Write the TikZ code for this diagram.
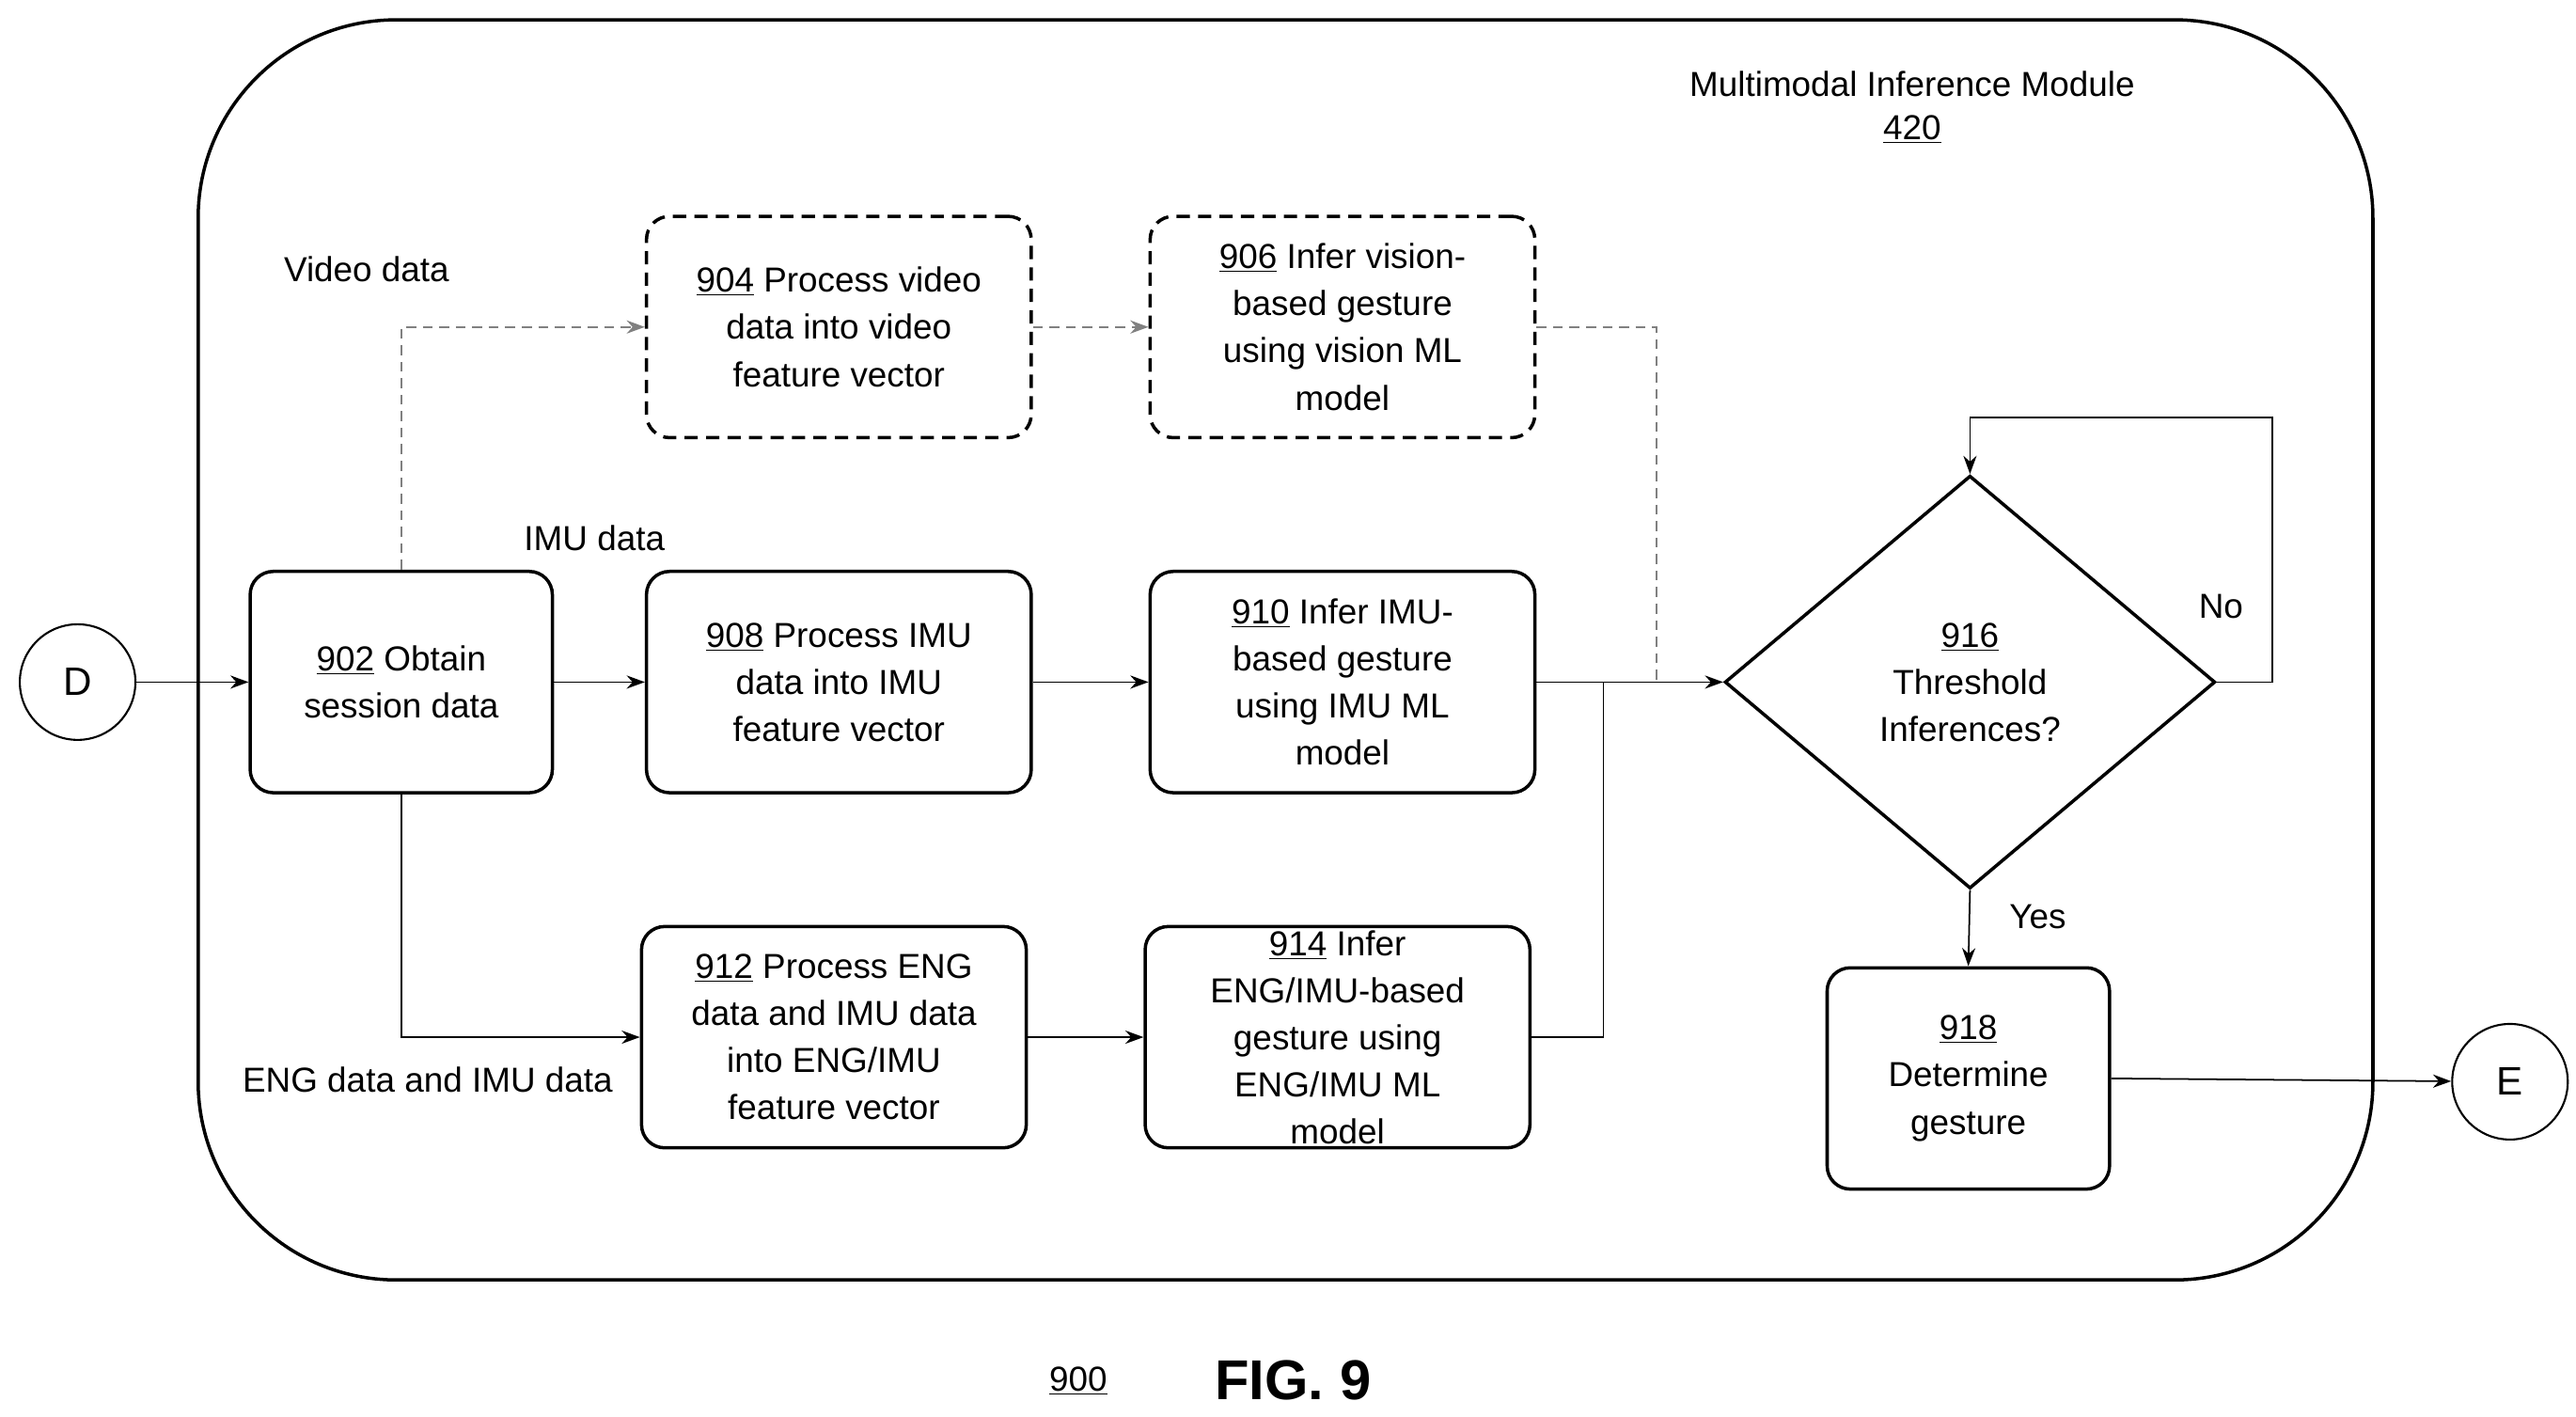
\documentclass[tikz,border=0pt]{standalone}
\usepackage{fontspec}
\setmainfont{Liberation Sans}
\usetikzlibrary{shapes.geometric,arrows.meta}
\begin{document}
\begin{tikzpicture}[x=1pt,y=-1pt,
  box/.style={draw,line width=2pt,rounded corners=14pt,minimum width=233pt,minimum height=134pt,align=center,font=\fontsize{21}{28.5}\selectfont,inner sep=2pt},
  dbox/.style={box,dash pattern=on 8pt off 5pt},
  lbl/.style={font=\fontsize{21}{26}\selectfont},
  ar/.style={-{Stealth[length=11pt,width=8pt]},line width=1pt},
  dar/.style={ar,dashed,gray,dash pattern=on 6pt off 4pt},
  circ/.style={draw,circle,line width=1.2pt,minimum size=70pt,font=\fontsize{24}{28}\selectfont}]
\useasboundingbox (0,0) rectangle (1560,858);
\draw[line width=2pt,rounded corners=120pt] (120,12) rectangle (1437,775);
\node[lbl,align=center] (title) at (1158,65) {Multimodal Inference Module\\\underline{420}};
\node[circ] (D) at (47,413) {D};
\node[circ] (E) at (1520,655) {E};
\node[box,minimum width=183pt] (n902) at (243,413) {\underline{902} Obtain\\session data};
\node[dbox] (n904) at (508,198) {\underline{904} Process video\\data into video\\feature vector};
\node[dbox] (n906) at (813,198) {\underline{906} Infer vision-\\based gesture\\using vision ML\\model};
\node[box] (n908) at (508,413) {\underline{908} Process IMU\\data into IMU\\feature vector};
\node[box] (n910) at (813,413) {\underline{910} Infer IMU-\\based gesture\\using IMU ML\\model};
\node[box] (n912) at (505,628) {\underline{912} Process ENG\\data and IMU data\\into ENG/IMU\\feature vector};
\node[box] (n914) at (810,628) {\underline{914} Infer\\ENG/IMU-based\\gesture using\\ENG/IMU ML\\model};
\node[draw,diamond,line width=2pt,minimum width=297pt,minimum height=250pt,inner sep=0pt,align=center,font=\fontsize{21}{28.5}\selectfont] (n916) at (1193,413) {\underline{916}\\Threshold\\Inferences?};
\node[box,minimum width=171pt] (n918) at (1192,653) {\underline{918}\\Determine\\gesture};
\node[lbl] (l1) at (222,163) {Video data};
\node[lbl] (l2) at (360,326) {IMU data};
\node[lbl] (l3) at (259,654) {ENG data and IMU data};
\node[lbl] (l4) at (1345,367) {No};
\node[lbl] (l5) at (1234,555) {Yes};
\node[font=\fontsize{21}{26}\selectfont] (f900) at (653,836) {\underline{900}};
\node[font=\bfseries\fontsize{34}{40}\selectfont] (fig) at (783,836) {FIG. 9};
\coordinate (j1) at (1003,413);
\coordinate (j2) at (971,413);
\draw[ar] (D) -- (n902);
\draw[dar] (n902.north) -- (243,198) -- (n904.west);
\draw[dar] (n904) -- (n906);
\draw[gray,dashed,line width=1pt,dash pattern=on 6pt off 4pt] (n906.east) -- (1003,198) -- (j1);
\draw[ar] (n902) -- (n908);
\draw[ar] (n908) -- (n910);
\draw[ar] (n910) -- (n916.west);
\draw[ar] (n902.south) -- (243,628) -- (n912.west);
\draw[ar] (n912) -- (n914);
\draw[line width=1pt] (n914.east) -- (971,628) -- (j2);
\draw[ar] (n916.east) -- (1376,413) -- (1376,253) -- (1193,253) -- (n916.north);
\draw[ar] (n916.south) -- (n918.north);
\draw[ar] (n918.east) -- (E);
\end{tikzpicture}
\end{document}
